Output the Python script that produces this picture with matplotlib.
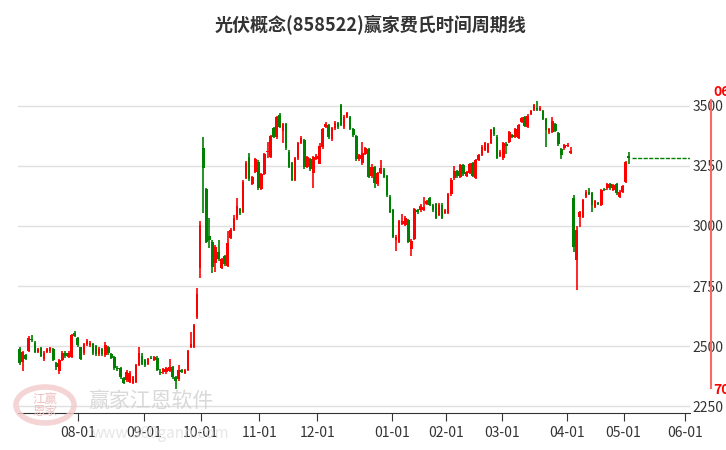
import matplotlib.pyplot as plt
from matplotlib.patches import Circle

plt.rcParams['font.family'] = ['Noto Sans CJK SC', 'DejaVu Sans']

# daily candles, Jul 2024 - May 2025
opens = [
    2486, 2434, 2462, 2480, 2527, 2514, 2476, 2490, 2444, 2476,
    2478, 2486, 2430, 2397, 2441, 2473, 2455, 2455, 2555, 2532,
    2494, 2469, 2508, 2504, 2508, 2500, 2466, 2486, 2462, 2497,
    2465, 2455, 2410, 2409, 2365, 2358, 2351, 2347, 2351, 2420,
    2458, 2441, 2427, 2451, 2441, 2452, 2393, 2390, 2390, 2397,
    2414, 2369, 2361, 2400, 2389, 2402, 2497, 2497, 2620, 2825,
    3325, 3154, 2958, 2935, 2844, 2893, 2826, 2875, 2833, 2949,
    2983, 3032, 3069, 3060, 3199, 3286, 3175, 3226, 3268, 3153,
    3217, 3307, 3289, 3407, 3369, 3462, 3397, 3425, 3310, 3261,
    3192, 3282, 3347, 3358, 3247, 3278, 3219, 3280, 3258, 3328,
    3414, 3421, 3361, 3407, 3428, 3504, 3411, 3453, 3453, 3403,
    3375, 3278, 3261, 3300, 3319, 3208, 3247, 3174, 3220, 3233,
    3208, 3122, 3067, 2942, 2935, 3010, 3004, 3025, 2904, 2945,
    3067, 3067, 3067, 3092, 3115, 3088, 3090, 3046, 3088, 3053,
    3053, 3132, 3199, 3229, 3206, 3254, 3210, 3220, 3261, 3199,
    3275, 3296, 3317, 3310, 3345, 3407, 3372, 3292, 3282, 3342,
    3349, 3379, 3372, 3368, 3432, 3452, 3414, 3468, 3483, 3493,
    3483, 3479, 3446, 3390, 3390, 3424, 3386, 3321, 3324, 3333,
    3303, 3115, 2858, 3038, 3038, 3122, 3140, 3136, 3080, 3094,
    3087, 3152, 3157, 3175, 3152, 3175, 3122, 3143, 3184, 3291,
]
closes = [
    2430, 2476, 2448, 2532, 2525, 2476, 2486, 2460, 2472, 2486,
    2490, 2441, 2411, 2441, 2472, 2458, 2473, 2548, 2541, 2504,
    2448, 2508, 2520, 2514, 2469, 2466, 2486, 2466, 2504, 2469,
    2452, 2407, 2404, 2369, 2347, 2393, 2388, 2369, 2420, 2469,
    2427, 2420, 2448, 2448, 2455, 2400, 2389, 2403, 2407, 2414,
    2369, 2355, 2402, 2391, 2402, 2479, 2508, 2587, 2717, 3004,
    3242, 2933, 2940, 2830, 2914, 2861, 2861, 2840, 2928, 2983,
    3032, 3083, 3053, 3185, 3264, 3194, 3203, 3278, 3157, 3217,
    3300, 3310, 3375, 3372, 3453, 3414, 3425, 3324, 3247, 3192,
    3282, 3344, 3365, 3244, 3286, 3236, 3286, 3292, 3333, 3403,
    3425, 3369, 3407, 3431, 3411, 3421, 3456, 3469, 3403, 3379,
    3278, 3296, 3306, 3324, 3206, 3247, 3181, 3220, 3243, 3206,
    3129, 3060, 2956, 2956, 3021, 3021, 3032, 2935, 2939, 3070,
    3057, 3083, 3081, 3104, 3088, 3067, 3035, 3088, 3035, 3067,
    3132, 3192, 3229, 3208, 3254, 3215, 3224, 3257, 3210, 3275,
    3296, 3331, 3345, 3340, 3400, 3382, 3285, 3310, 3345, 3335,
    3390, 3372, 3403, 3421, 3449, 3418, 3460, 3479, 3504, 3483,
    3493, 3446, 3400, 3404, 3438, 3396, 3340, 3296, 3338, 3338,
    3313, 2914, 2983, 3059, 3108, 3143, 3133, 3087, 3105, 3091,
    3150, 3150, 3175, 3157, 3170, 3136, 3143, 3166, 3268, 3282,
]
highs = [
    2495, 2480, 2468, 2540, 2545, 2520, 2492, 2495, 2478, 2492,
    2498, 2490, 2434, 2446, 2478, 2478, 2480, 2552, 2562, 2536,
    2498, 2512, 2530, 2520, 2512, 2505, 2495, 2490, 2515, 2502,
    2470, 2460, 2418, 2412, 2370, 2400, 2395, 2375, 2425, 2495,
    2470, 2446, 2452, 2458, 2460, 2458, 2405, 2408, 2412, 2448,
    2418, 2374, 2420, 2405, 2406, 2484, 2560, 2592, 2740, 3021,
    3371, 3160, 3033, 2940, 2920, 2940, 2868, 2880, 2980, 2990,
    3045, 3115, 3075, 3190, 3270, 3306, 3210, 3285, 3275, 3222,
    3305, 3350, 3380, 3412, 3458, 3472, 3430, 3430, 3316, 3266,
    3288, 3350, 3375, 3364, 3292, 3284, 3292, 3298, 3345, 3408,
    3432, 3426, 3412, 3436, 3434, 3510, 3462, 3475, 3458, 3408,
    3380, 3302, 3350, 3330, 3324, 3258, 3252, 3226, 3275, 3240,
    3214, 3128, 3072, 2962, 3026, 3050, 3040, 3030, 2944, 3075,
    3072, 3090, 3122, 3110, 3120, 3093, 3096, 3094, 3094, 3072,
    3137, 3198, 3250, 3234, 3260, 3259, 3230, 3262, 3265, 3280,
    3300, 3336, 3350, 3346, 3405, 3412, 3378, 3316, 3350, 3348,
    3395, 3384, 3408, 3426, 3455, 3457, 3466, 3484, 3510, 3520,
    3498, 3484, 3450, 3410, 3455, 3430, 3392, 3326, 3342, 3345,
    3330, 3130, 3000, 3064, 3113, 3148, 3157, 3140, 3110, 3100,
    3155, 3158, 3180, 3180, 3175, 3180, 3148, 3172, 3272, 3310,
]
lows = [
    2420, 2397, 2440, 2475, 2518, 2470, 2470, 2455, 2438, 2470,
    2472, 2436, 2402, 2383, 2436, 2452, 2450, 2450, 2536, 2498,
    2442, 2462, 2502, 2498, 2462, 2460, 2460, 2460, 2455, 2462,
    2446, 2400, 2398, 2362, 2340, 2352, 2346, 2342, 2346, 2415,
    2420, 2414, 2422, 2444, 2436, 2395, 2380, 2385, 2385, 2392,
    2364, 2323, 2356, 2386, 2384, 2398, 2492, 2492, 2612, 2783,
    3054, 2930, 2908, 2803, 2810, 2855, 2820, 2833, 2828, 2944,
    2978, 3027, 3046, 3055, 3194, 3188, 3170, 3220, 3150, 3148,
    3212, 3282, 3282, 3366, 3364, 3408, 3347, 3318, 3240, 3186,
    3188, 3276, 3342, 3238, 3240, 3230, 3157, 3275, 3258, 3322,
    3408, 3362, 3355, 3400, 3405, 3415, 3405, 3448, 3398, 3372,
    3272, 3272, 3255, 3295, 3200, 3202, 3157, 3168, 3215, 3200,
    3122, 3054, 2950, 2896, 2930, 3005, 2998, 2930, 2876, 2940,
    3050, 3060, 3062, 3086, 3082, 3060, 3028, 3040, 3028, 3048,
    3048, 3126, 3192, 3202, 3200, 3210, 3205, 3215, 3204, 3194,
    3270, 3290, 3312, 3305, 3340, 3376, 3280, 3286, 3276, 3300,
    3344, 3368, 3368, 3364, 3427, 3412, 3410, 3463, 3478, 3478,
    3478, 3440, 3330, 3385, 3386, 3390, 3335, 3280, 3318, 3328,
    3298, 2890, 2733, 2995, 3032, 3117, 3128, 3060, 3075, 3086,
    3082, 3145, 3152, 3150, 3146, 3130, 3117, 3138, 3180, 3260,
]

tick_labels = ['08-01', '09-01', '10-01', '11-01', '12-01', '01-01',
               '02-01', '03-01', '04-01', '05-01', '06-01']
tick_index = [19.0, 40.7, 59.3, 78.3, 97.3, 121.7, 139.3, 157.7, 178.7,
              197.3, 217.3]
y_ticks = [2250, 2500, 2750, 3000, 3250, 3500]

UP = '#ff0000'
DOWN = '#008000'

fig = plt.figure(figsize=(7.26, 4.5), dpi=100)
ax = fig.add_axes([18 / 726, 1 - 413 / 450, 672 / 726, 368 / 450])

for i, (o, c, h, lo) in enumerate(zip(opens, closes, highs, lows)):
    color = UP if c >= o else DOWN
    ax.vlines(i, lo, h, color=color, linewidth=1.2)
    ax.bar(i, max(abs(c - o), 4), bottom=min(o, c), width=0.85,
           color=color, linewidth=0)

n = len(closes)
ax.hlines(closes[-1], n, 219, colors=DOWN, linestyles=(0, (3, 1)),
          linewidth=1)

ax.set_xlim(-0.5, 219)
ax.set_ylim(2221, 3754)
ax.set_yticks(y_ticks)
ax.yaxis.grid(True, color='#e0e0e0', linewidth=1)
ax.set_axisbelow(True)
ax.yaxis.tick_right()
ax.tick_params(axis='y', length=0, labelsize=10, labelcolor='#333333', pad=2)
ax.set_xticks(tick_index)
ax.set_xticklabels(tick_labels)
ax.tick_params(axis='x', direction='out', length=6, color='#333333',
               labelsize=10, labelcolor='#333333')
for side in ('top', 'left', 'right'):
    ax.spines[side].set_visible(False)
ax.spines['bottom'].set_color('#333333')

fig.text(0.51, 1 - 25 / 450, '光伏概念(858522)赢家费氏时间周期线',
         ha='center', va='center', fontsize=13, fontweight='bold',
         color='#333333')

# red time marker at the right edge
fig.add_artist(plt.Line2D([711 / 726, 711 / 726], [1 - 100 / 450, 1 - 388 / 450],
                          color='#ff6666', linewidth=1.5))
fig.text(713 / 726, 1 - 92 / 450, '06', color='#ff0000', fontsize=10,
         fontweight='bold', va='center')
fig.text(713 / 726, 1 - 390 / 450, '70', color='#ff0000', fontsize=10,
         fontweight='bold', va='center')

# watermark
fig.add_artist(Circle((45 / 726, 1 - 405 / 450), 0.04, transform=fig.transFigure,
                      fill=False, edgecolor='#f2caca', linewidth=4, alpha=0.8))
fig.text(45 / 726, 1 - 405 / 450, '江赢\n恩家', ha='center', va='center',
         fontsize=9, color='#eec0c0', linespacing=0.9)
fig.text(88 / 726, 1 - 401 / 450, '赢家江恩软件', fontsize=15, color='#d0d0d0',
         va='center', alpha=0.8)
fig.text(92 / 726, 1 - 433 / 450, 'www.360gann.com', fontsize=11,
         color='#dddddd', va='center', alpha=0.7)

fig.savefig('out.png', dpi=100)
